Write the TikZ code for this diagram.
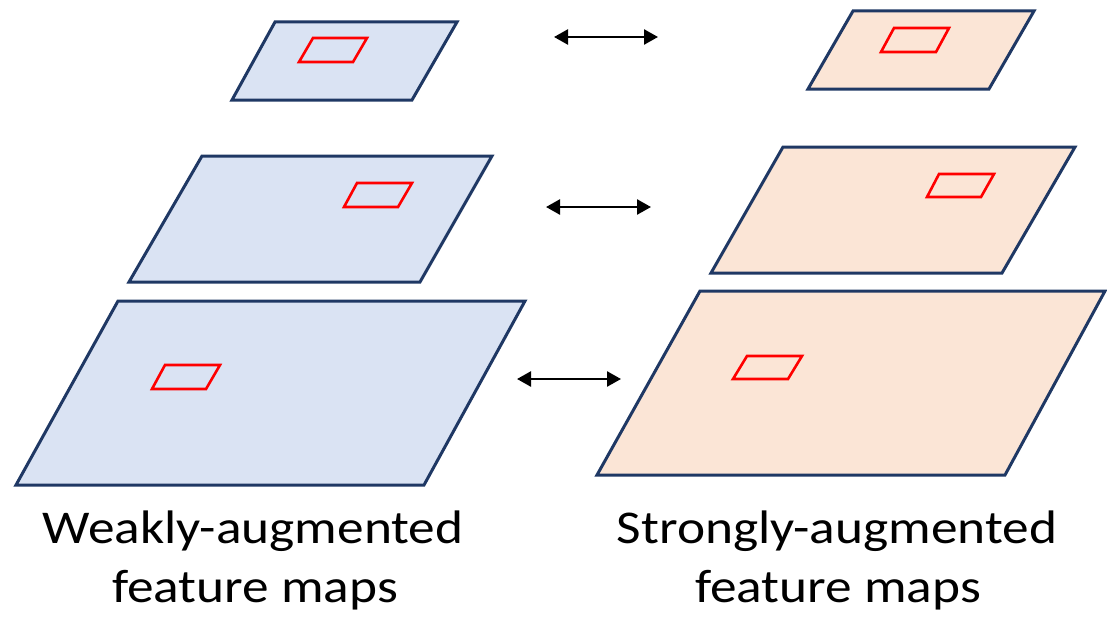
\documentclass[tikz,border=0pt]{standalone}
\usepackage{fontspec}
\setmainfont{Carlito}
\usetikzlibrary{arrows.meta}
\definecolor{mapedge}{HTML}{1F3864}
\definecolor{weakfill}{HTML}{DAE3F3}
\definecolor{strongfill}{HTML}{FBE5D6}
\definecolor{patch}{HTML}{FF0000}
\newcommand{\widetext}[1]{\scalebox{1.135}[1]{#1}}
\tikzset{
  weakmap/.style={draw=mapedge, fill=weakfill, line width=3pt, line join=miter},
  strongmap/.style={draw=mapedge, fill=strongfill, line width=3pt, line join=miter},
  patchbox/.style={draw=patch, line width=2.6pt, line join=miter},
  pairarrow/.style={line width=2.5pt, {Triangle[length=14pt,width=15pt]}-{Triangle[length=14pt,width=15pt]}},
  caption/.style={font=\fontsize{47}{57}\selectfont, anchor=base, inner sep=0pt}
}
\begin{document}
\begin{tikzpicture}[x=1pt, y=-1pt]
\useasboundingbox (0,0) rectangle (1107,618);

% weakly-augmented pyramid (left)
\draw[weakmap] (275,22) -- (457,22) -- (412,100) -- (232,100) -- cycle;
\draw[patchbox] (313,38) -- (367,38) -- (353,62) -- (299,62) -- cycle;

\draw[weakmap] (202,156) -- (492,156) -- (420,282) -- (129,282) -- cycle;
\draw[patchbox] (357,183) -- (412,183) -- (398,207) -- (344,207) -- cycle;

\draw[weakmap] (118,301) -- (525,301) -- (424,485) -- (16,485) -- cycle;
\draw[patchbox] (165,365) -- (220,365) -- (206,389) -- (152,389) -- cycle;

% strongly-augmented pyramid (right)
\draw[strongmap] (853,11) -- (1034,11) -- (989,89) -- (808,89) -- cycle;
\draw[patchbox] (894,28) -- (949,28) -- (936,52) -- (881,52) -- cycle;

\draw[strongmap] (783,147) -- (1075,147) -- (1002,273) -- (711,273) -- cycle;
\draw[patchbox] (939,174) -- (994,174) -- (981,197) -- (927,197) -- cycle;

\draw[strongmap] (700,291) -- (1105,291) -- (1005,475) -- (597,475) -- cycle;
\draw[patchbox] (747,356) -- (802,356) -- (788,379) -- (733,379) -- cycle;

% level-wise correspondences
\coordinate (topL) at (554,37);
\coordinate (topR) at (658,37);
\coordinate (midL) at (546,207);
\coordinate (midR) at (651,207);
\coordinate (botL) at (517,379);
\coordinate (botR) at (621,379);
\draw[pairarrow] (topL) -- (topR);
\draw[pairarrow] (midL) -- (midR);
\draw[pairarrow] (botL) -- (botR);

% captions
\node[caption] (weakA) at (253,543) {\widetext{Weakly-augmented}};
\node[caption] (weakB) at (255,602) {\widetext{feature maps}};
\node[caption] (strongA) at (837,543) {\widetext{Strongly-augmented}};
\node[caption] (strongB) at (838,602) {\widetext{feature maps}};
\end{tikzpicture}
\end{document}
